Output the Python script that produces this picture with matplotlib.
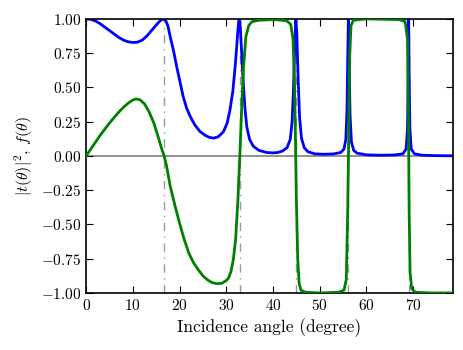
import matplotlib
matplotlib.use("Agg")
import matplotlib.pyplot as plt

plt.rcParams['font.family'] = ['cmr10', 'DejaVu Serif']
plt.rcParams['mathtext.fontset'] = 'cm'
plt.rcParams['axes.formatter.use_mathtext'] = True
plt.rcParams['axes.unicode_minus'] = True

# transmission |t|^2
t_x = [0, 1, 2, 3, 4, 5, 6, 7, 8, 9, 10, 11, 12, 13, 14, 15, 15.8, 16.3,
       16.6, 17.0, 17.5, 18.0, 18.7, 19.4, 20.1, 20.8, 21.5, 22.3, 23.3,
       24.4, 25.5, 26.4, 27.3, 28.3, 29.4, 30.2, 30.8, 31.4, 31.9, 32.2,
       32.45, 32.65, 32.8, 32.95, 33.15, 33.4, 33.7, 34.0, 34.4, 35.0, 35.8,
       37, 38.7, 40, 41, 42, 43, 43.7, 44.1, 44.4, 44.7, 44.9, 45.1, 45.4,
       45.7, 46.1, 46.7, 47.5, 49, 51, 53, 54.5, 55.2, 55.6, 55.85, 56.0,
       56.15, 56.3, 56.5, 56.8, 57.3, 58, 60, 63, 66, 67.8, 68.5, 68.8,
       68.95, 69.05, 69.15, 69.3, 69.6, 70.3, 72, 75, 78.5]
t_y = [1.00, 0.997, 0.985, 0.965, 0.94, 0.915, 0.89, 0.865, 0.845, 0.833,
       0.828, 0.83, 0.845, 0.875, 0.915, 0.955, 0.985, 0.997,
       1.00, 0.99, 0.95, 0.87, 0.77, 0.65, 0.54, 0.43, 0.35, 0.287, 0.225,
       0.177, 0.15, 0.135, 0.13, 0.14, 0.177, 0.24, 0.336, 0.47, 0.65, 0.78,
       0.9, 0.98, 1.00, 0.97, 0.85, 0.68, 0.50, 0.35, 0.21, 0.12, 0.07,
       0.04, 0.025, 0.022, 0.025, 0.035, 0.06, 0.12, 0.25, 0.5, 0.85, 1.0,
       0.9, 0.55, 0.28, 0.13, 0.06, 0.03, 0.015, 0.012, 0.015, 0.025, 0.05,
       0.12, 0.35, 0.7, 1.0, 0.7, 0.3, 0.1, 0.04, 0.02, 0.008, 0.005, 0.007,
       0.015, 0.05, 0.2, 0.6, 1.0, 0.6, 0.2, 0.05, 0.015, 0.005, 0.002, 0.001]

# f(theta)
f_x = [0, 1, 2, 3, 4, 5, 6, 7, 8, 9, 10, 10.7, 11.5, 12.5, 13.5, 14.5, 15.5,
       16.2, 16.7, 17.2, 18, 19, 20, 21, 22, 23, 24, 25, 26, 27, 28, 29, 30,
       30.5, 31, 31.5, 32, 32.5, 32.8, 33.0, 33.3, 33.7, 34.2, 34.8, 35.5,
       37, 40, 42, 43, 43.8, 44.3, 44.6, 44.8, 45.0, 45.3, 45.6, 46.0, 47,
       50, 54, 55.2, 55.7, 56.0, 56.2, 56.4, 56.7, 57.2, 60, 67, 68.3, 68.8,
       69.0, 69.15, 69.35, 69.7, 70.5, 74, 78.5]
f_y = [0.0, 0.05, 0.10, 0.15, 0.195, 0.24, 0.28, 0.32, 0.355, 0.385, 0.408,
       0.416, 0.41, 0.38, 0.32, 0.24, 0.13, 0.05, 0.0, -0.07, -0.22, -0.36,
       -0.49, -0.61, -0.71, -0.78, -0.83, -0.875, -0.905, -0.925, -0.932,
       -0.93, -0.91, -0.89, -0.845, -0.76, -0.61, -0.32, -0.08, 0.08, 0.35,
       0.65, 0.87, 0.95, 0.98, 0.99, 0.995, 0.99, 0.985, 0.96, 0.85, 0.55,
       0.15, -0.3, -0.75, -0.93, -0.98, -0.995, -1.0, -0.995, -0.98, -0.9,
       -0.4, 0.1, 0.7, 0.95, 0.99, 1.0, 0.995, 0.98, 0.85, 0.3, -0.4, -0.85,
       -0.97, -0.995, -1.0, -1.0]

# resonance angles
res_angles = [16.6, 33.0, 44.9, 56.15, 69.05]

fig = plt.figure(figsize=(4.63, 3.5), dpi=100)
ax = fig.add_axes([0.186, 0.163, 0.792, 0.783])

ax.axhline(0, color='gray', lw=1.2, zorder=1)
for a in res_angles:
    ax.axvline(a, color='0.6', ls=(0, (6, 4, 1, 4)), lw=1, zorder=1)

ax.plot(f_x, f_y, color='green', lw=2, zorder=3)
ax.plot(t_x, t_y, color='blue', lw=2, zorder=2)

ax.set_xlim(0, 78.5)
ax.set_ylim(-1, 1)
ax.set_xticks(range(0, 80, 10))
ax.set_yticks([-1, -0.75, -0.5, -0.25, 0, 0.25, 0.5, 0.75, 1])
ax.tick_params(direction='in', top=True, right=True, length=5, labelsize=11)
for s in ax.spines.values():
    s.set_linewidth(1.2)

ax.set_xlabel('Incidence angle (degree)', fontsize=12.5)
ax.set_ylabel(r'$|t(\theta)|^2$, $f(\theta)$', fontsize=11.5)

fig.savefig('out.png', dpi=100)
